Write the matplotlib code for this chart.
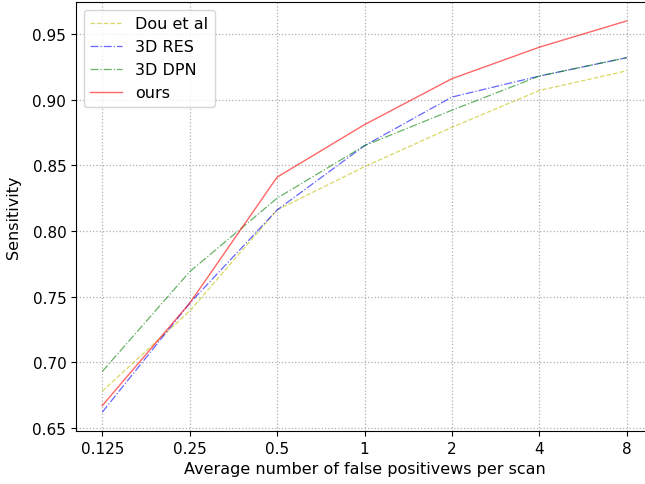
import matplotlib
matplotlib.use("Agg")
import matplotlib.pyplot as plt

fp_labels = ["0.125", "0.25", "0.5", "1", "2", "4", "8"]
dou_et_al = [0.678, 0.739, 0.816, 0.849, 0.879, 0.907, 0.922]
res_3d = [0.662, 0.745, 0.816, 0.865, 0.902, 0.918, 0.932]
dpn_3d = [0.693, 0.769, 0.825, 0.865, 0.892, 0.918, 0.932]
ours = [0.667, 0.745, 0.841, 0.881, 0.916, 0.940, 0.960]

fig = plt.figure(figsize=(6.45, 4.85), dpi=100)
ax = fig.add_axes([76 / 645, 1 - 432 / 485, 577 / 645, 429 / 485])

x = list(range(len(fp_labels)))
ax.plot(x, dou_et_al, color="y", linestyle="--", linewidth=0.9, alpha=0.6, label="Dou et al")
ax.plot(x, res_3d, color="b", linestyle="-.", linewidth=0.9, alpha=0.6, label="3D RES")
ax.plot(x, dpn_3d, color="g", linestyle="-.", linewidth=0.9, alpha=0.6, label="3D DPN")
ax.plot(x, ours, color="r", linestyle="-", linewidth=1.0, alpha=0.6, label="ours")

ax.set_xticks(x)
ax.set_xticklabels(fp_labels)
ax.set_xlim(-0.3, 6.3)
ax.set_ylim(0.6477, 0.9744)
ax.set_yticks([0.65, 0.70, 0.75, 0.80, 0.85, 0.90, 0.95])
ax.set_yticklabels(["0.65", "0.70", "0.75", "0.80", "0.85", "0.90", "0.95"])
ax.tick_params(labelsize=11)
ax.spines["right"].set_visible(False)
ax.grid(True, linestyle=":", color="#b0b0b0", linewidth=0.9)
ax.set_xlabel("Average number of false positivews per scan", fontsize=11.5)
ax.set_ylabel("Sensitivity", fontsize=11.5, labelpad=8)
ax.legend(loc="upper left", fontsize=11.5)

fig.savefig("out.png", dpi=100)
